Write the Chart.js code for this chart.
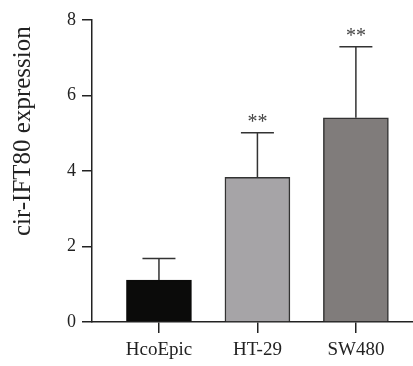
<!DOCTYPE html>
<html>
<head>
<meta charset="utf-8">
<script src="https://cdn.jsdelivr.net/npm/chart.js@4.4.1/dist/chart.umd.min.js"></script>
<style>
  html, body { margin: 0; padding: 0; background: #fff; }
  #wrap { width: 413px; height: 366px; }
</style>
</head>
<body>
<div id="wrap"><canvas id="myChart"></canvas></div>
<script>
// datos del grafico
var grupos = ['HcoEpic', 'HT-29', 'SW480'];
var medias = [1.11, 3.83, 5.41];
var errores = [0.57, 1.18, 1.88];
var marcas = ['', '**', '**'];
var colores = ['#0b0b0a', '#a6a4a7', '#807c7b'];
var bordes = ['#0b0b0a', '#333333', '#333333'];
var ticksY = [0, 2, 4, 6, 8];

var fuente = "'Liberation Serif', 'Times New Roman', serif";

// plugin para barras de error y asteriscos
var errorBars = {
      id: 'errorBars',
      afterDatasetsDraw: function (chart) {
            var c = chart.ctx;
            var xs = chart.scales.x, ys = chart.scales.y;
            c.save();
            c.strokeStyle = '#333333';
            c.lineWidth = 1.5;
            for (var i = 0; i < grupos.length; i++) {
                  var x = xs.getPixelForValue(i);
                  var y0 = ys.getPixelForValue(medias[i]);
                  var y1 = ys.getPixelForValue(medias[i] + errores[i]);
                  c.beginPath();
                  c.moveTo(x, y0);
                  c.lineTo(x, y1);
                  c.moveTo(x - 16.5, y1);
                  c.lineTo(x + 16.5, y1);
                  c.stroke();
                  if (marcas[i]) {
                        c.fillStyle = '#444444';
                        c.font = '20px ' + fuente;
                        c.textAlign = 'center';
                        c.textBaseline = 'middle';
                        c.fillText(marcas[i], x, y1 - 10);
                  }
            }
            c.restore();
      }
};

const ctx = document.getElementById('myChart').getContext('2d');
let myChart = new Chart(ctx, {
      type: 'bar',
      data: {
            datasets: [{
                  data: grupos.map(function (g, i) { return { x: i, y: medias[i] }; }),
                  backgroundColor: colores,
                  borderColor: bordes,
                  borderWidth: 1.5,
                  barThickness: 65
            }]
      },
      options: {
            responsive: true,
            maintainAspectRatio: false,
            animation: false,
            layout: { padding: { top: 20, right: 0, left: 0, bottom: 0 } },
            plugins: {
                  legend: { display: false },
                  tooltip: { enabled: false }
            },
            scales: {
                  x: {
                        type: 'linear',
                        offset: false,
                        min: -0.68,
                        max: 2.58,
                        afterBuildTicks: function (scale) {
                              scale.ticks = grupos.map(function (g, i) { return { value: i }; });
                        },
                        afterFit: function (scale) { scale.height = 44; },
                        ticks: {
                              color: '#222',
                              padding: 6,
                              font: { family: fuente, size: 19 },
                              callback: function (v) { return grupos[v]; }
                        },
                        grid: {
                              offset: false,
                              drawOnChartArea: false,
                              drawTicks: true,
                              tickLength: 11,
                              color: '#222',
                              lineWidth: 1.5
                        },
                        border: { color: '#222', width: 1.5 }
                  },
                  y: {
                        min: 0,
                        max: 8,
                        afterBuildTicks: function (scale) {
                              scale.ticks = ticksY.map(function (v) { return { value: v }; });
                        },
                        afterFit: function (scale) { scale.width = 92; },
                        ticks: {
                              color: '#222',
                              padding: 6,
                              font: { family: fuente, size: 18 }
                        },
                        grid: {
                              drawOnChartArea: false,
                              drawTicks: true,
                              tickLength: 10,
                              color: '#222',
                              lineWidth: 1.5
                        },
                        border: { color: '#222', width: 1.5 },
                        title: {
                              display: true,
                              align: 'end',
                              text: 'cir-IFT80 expression ',
                              color: '#222',
                              font: { family: fuente, size: 25 },
                              padding: { top: 8, bottom: 4 }
                        }
                  }
            }
      },
      plugins: [errorBars]
});
</script>
</body>
</html>
